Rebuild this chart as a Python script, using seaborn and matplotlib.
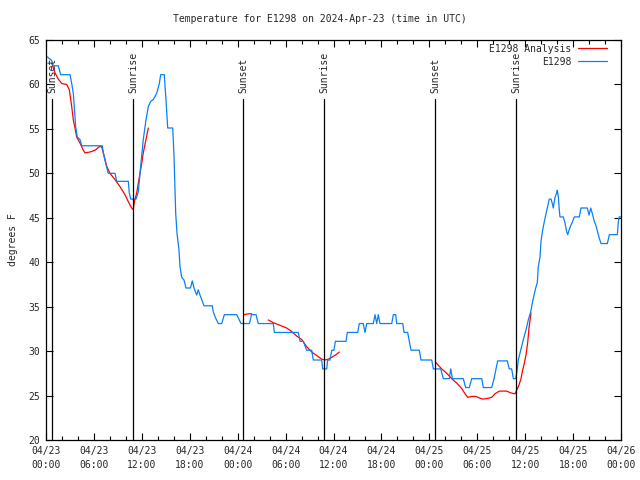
import numpy as np
import pandas as pd
import matplotlib
matplotlib.use("Agg")
import matplotlib.pyplot as plt
from matplotlib.lines import Line2D
from matplotlib.ticker import MultipleLocator
import seaborn as sns

# ---- data (hours since 04/23 00:00 UTC, degrees F) ----
obs_hours = [0.16, 0.71, 0.91, 1.54, 1.84, 3.01, 3.22, 3.42, 3.54, 3.72, 3.92, 4.26, 4.47,
             7.05, 7.18, 7.48, 7.80, 8.64, 8.85, 10.31, 10.43, 10.61, 11.27, 11.56, 11.77,
             11.98, 12.18, 12.52, 12.81, 13.11, 13.44, 13.86, 14.19, 14.36, 14.81, 15.03,
             15.24, 15.87, 16.03, 16.24, 16.40, 16.65, 16.78, 16.99, 17.28, 17.53, 18.09,
             18.32, 18.53, 18.87, 19.07, 19.28, 19.50, 19.78, 20.82, 20.95, 21.25, 21.58,
             22.00, 22.33, 23.88, 24.21, 24.42, 25.48, 25.73, 26.30, 26.58, 28.46, 28.59,
             31.59, 31.81, 32.22, 32.64, 33.27, 33.47, 34.52, 34.65, 35.15, 35.27, 35.56,
             35.78, 36.06, 36.23, 37.57, 37.73, 39.03, 39.23, 39.73, 39.94, 40.16, 40.98,
             41.20, 41.41, 41.61, 41.82, 43.29, 43.49, 43.79, 43.91, 44.67, 44.83, 45.29,
             45.49, 45.71, 46.74, 46.96, 48.30, 48.50, 49.42, 49.75, 50.50, 50.68, 50.88,
             52.25, 52.55, 53.00, 53.31, 54.56, 54.76, 55.81, 56.10, 56.35, 56.56, 57.76,
             58.01, 58.31, 58.52, 58.82, 59.02, 59.14, 59.44, 59.77, 60.11, 60.39, 60.69,
             60.89, 61.11, 61.32, 61.52, 61.64, 61.86, 61.98, 62.15, 62.36, 62.57, 62.82,
             63.02, 63.24, 63.40, 63.52, 63.74, 63.95, 64.02, 64.15, 64.27, 64.36, 64.78,
             64.99, 65.20, 65.33, 65.49, 65.70, 65.95, 66.15, 66.78, 66.99, 67.78, 68.00,
             68.21, 68.46, 68.66, 68.87, 69.08, 69.28, 69.50, 70.29, 70.54, 71.54, 71.67,
             71.79, 71.96]
obs_temps = [63.1, 62.7, 62.1, 62.1, 61.1, 61.1, 60.1, 59.0, 57.5, 55.2, 54.1, 53.8, 53.1,
             53.1, 52.3, 51.1, 50.0, 50.0, 49.1, 49.1, 47.8, 47.1, 47.1, 47.9, 50.0,
             51.9, 53.8, 56.0, 57.5, 58.1, 58.3, 59.0, 60.1, 61.1, 61.1, 58.2,
             55.1, 55.1, 51.9, 45.5, 43.3, 41.4, 39.5, 38.3, 38.0, 37.1, 37.1,
             37.9, 37.1, 36.3, 36.9, 36.3, 35.8, 35.1, 35.1, 34.4, 33.7, 33.1,
             33.1, 34.1, 34.1, 33.5, 33.1, 33.1, 34.1, 34.1, 33.1, 33.1, 32.1,
             32.1, 31.1, 31.1, 30.1, 30.1, 29.0, 29.0, 28.0, 28.0, 29.0, 29.0,
             30.1, 30.1, 31.1, 31.1, 32.1, 32.1, 33.1, 33.1, 32.1, 33.1, 33.1,
             34.1, 33.1, 34.1, 33.1, 33.1, 34.1, 34.1, 33.1, 33.1, 32.1, 32.1,
             31.1, 30.1, 30.1, 29.0, 29.0, 28.0, 28.0, 26.9, 26.9, 28.0, 26.9,
             26.9, 25.9, 25.9, 26.9, 26.9, 25.9, 25.9, 26.9, 28.0, 28.9, 28.9,
             28.0, 28.0, 26.9, 26.9, 28.0, 29.0, 30.1, 31.3, 32.4, 33.5, 34.4,
             35.4, 36.3, 37.1, 37.7, 39.5, 40.6, 42.3, 43.4, 44.4, 45.3, 46.3,
             47.1, 47.1, 46.6, 46.1, 47.3, 47.8, 48.1, 47.4, 45.9, 45.1, 45.1,
             44.4, 43.4, 43.1, 43.6, 44.1, 44.6, 45.1, 45.1, 46.1, 46.1, 45.3,
             46.1, 45.3, 44.6, 44.1, 43.4, 42.7, 42.1, 42.1, 43.1, 43.1, 44.6,
             45.1, 45.1]

ana_segment = [1] * 33 + [2] * 3 + [3] * 16 + [4] * 29
ana_hours = [0.71, 1.13, 1.54, 1.97, 2.59, 2.92, 3.22, 3.42, 3.63, 3.84, 4.26, 4.67, 4.88,
             5.51, 6.14, 6.67, 6.97, 7.18, 7.60, 8.01, 8.64, 9.27, 9.89, 10.31, 10.73,
             10.93, 11.06, 11.36, 11.56, 11.77, 11.98, 12.18, 12.81,
             24.79, 25.33, 25.76,
             27.84, 28.46, 29.30, 30.14, 30.77, 31.39, 32.02, 32.64, 33.27, 33.90, 34.52,
             34.94, 35.35, 35.78, 36.31, 36.73,
             48.75, 49.12, 49.55, 50.18, 50.80, 51.43, 52.05, 52.47, 52.81, 53.31, 53.84,
             54.34, 54.76, 55.38, 55.81, 56.22, 56.76, 57.69, 58.19, 58.73, 58.94, 59.23,
             59.48, 59.69, 59.89, 60.11, 60.32, 60.48, 60.73]
ana_temps = [62.4, 61.3, 60.6, 60.1, 60.0, 59.4, 57.5, 56.0, 55.1, 54.1, 53.4, 52.6, 52.3,
             52.4, 52.6, 53.0, 53.0, 52.3, 50.8, 50.0, 49.3, 48.5, 47.6, 46.8, 46.1,
             45.9, 46.8, 47.8, 48.9, 50.0, 51.1, 52.3, 55.1,
             34.1, 34.2, 34.2,
             33.5, 33.2, 32.9, 32.6, 32.2, 31.7, 31.3, 30.5, 29.9, 29.5, 29.1,
             29.0, 29.1, 29.3, 29.6, 29.9,
             28.8, 28.4, 28.0, 27.5, 26.9, 26.4, 25.8, 25.2, 24.8, 24.9, 24.9,
             24.7, 24.6, 24.7, 24.8, 25.2, 25.5, 25.5, 25.3, 25.2, 25.6, 26.2,
             26.9, 27.9, 28.6, 29.6, 31.0, 32.6, 34.3]

sun_hours = [0.79, 10.93, 24.70, 34.85, 48.75, 58.90]
sun_labels = ["Sunset", "Sunrise", "Sunset", "Sunrise", "Sunset", "Sunrise"]

tick_hours = list(range(0, 73, 6))
tick_labels = ["04/23\n00:00", "04/23\n06:00", "04/23\n12:00", "04/23\n18:00",
               "04/24\n00:00", "04/24\n06:00", "04/24\n12:00", "04/24\n18:00",
               "04/25\n00:00", "04/25\n06:00", "04/25\n12:00", "04/25\n18:00",
               "04/26\n00:00"]

obs_df = pd.DataFrame({"hours": obs_hours, "temp": obs_temps})
ana_df = pd.DataFrame({"hours": ana_hours, "temp": ana_temps, "seg": ana_segment})

# ---- style ----
sns.set_style("white")
plt.rcParams["font.family"] = ["DejaVu Sans Mono", "DejaVu Sans"]
FS = 7

fig = plt.figure(figsize=(6.4, 4.8), dpi=100)
ax = fig.add_axes([46 / 640, 1 - 440 / 480, (621 - 46) / 640, 400 / 480])

RED = "#ff0000"
BLUE = "#0a80f5"

sns.lineplot(data=ana_df, x="hours", y="temp", units="seg", estimator=None,
             color=RED, lw=0.9, ax=ax, legend=False)
sns.lineplot(data=obs_df, x="hours", y="temp", estimator=None,
             color=BLUE, lw=0.9, ax=ax, legend=False)

for h, lab in zip(sun_hours, sun_labels):
    ax.axvline(h, ymin=0, ymax=(440 - 99) / 400, color="black", lw=0.9)
    ax.text(h, 1 - 53 / 400, lab, transform=ax.get_xaxis_transform(),
            rotation=90, ha="center", va="bottom", fontsize=FS)

ax.set_xlim(0, 72)
ax.set_ylim(20, 65)
ax.set_xticks(tick_hours)
ax.set_xticklabels(tick_labels, fontsize=FS, linespacing=1.6)
ax.xaxis.set_minor_locator(MultipleLocator(2))
ax.set_yticks(range(20, 66, 5))
ax.tick_params(axis="y", labelsize=FS)
ax.tick_params(which="both", direction="in", top=True, right=True,
               bottom=True, left=True, color="black", width=0.8)
ax.tick_params(which="major", length=5, pad=4)
ax.tick_params(which="minor", length=3)
for s in ax.spines.values():
    s.set_color("black")
    s.set_linewidth(0.9)

ax.set_xlabel("")
ax.set_ylabel("degrees F", fontsize=FS, labelpad=8)
fig.text(0.5, 1 - 19 / 480, "Temperature for E1298 on 2024-Apr-23 (time in UTC)",
         ha="center", va="center", fontsize=FS)

handles = [Line2D([], [], color=RED, lw=0.9), Line2D([], [], color=BLUE, lw=0.9)]
ax.legend(handles, ["E1298 Analysis", "E1298"], loc="upper right", frameon=False,
          markerfirst=False, fontsize=FS, handlelength=3.0, handletextpad=0.7,
          labelspacing=0.3, borderaxespad=0.2, borderpad=0.2,
          bbox_to_anchor=(1 - 10 / 575, 1.0))

fig.savefig("out.png", dpi=100)
